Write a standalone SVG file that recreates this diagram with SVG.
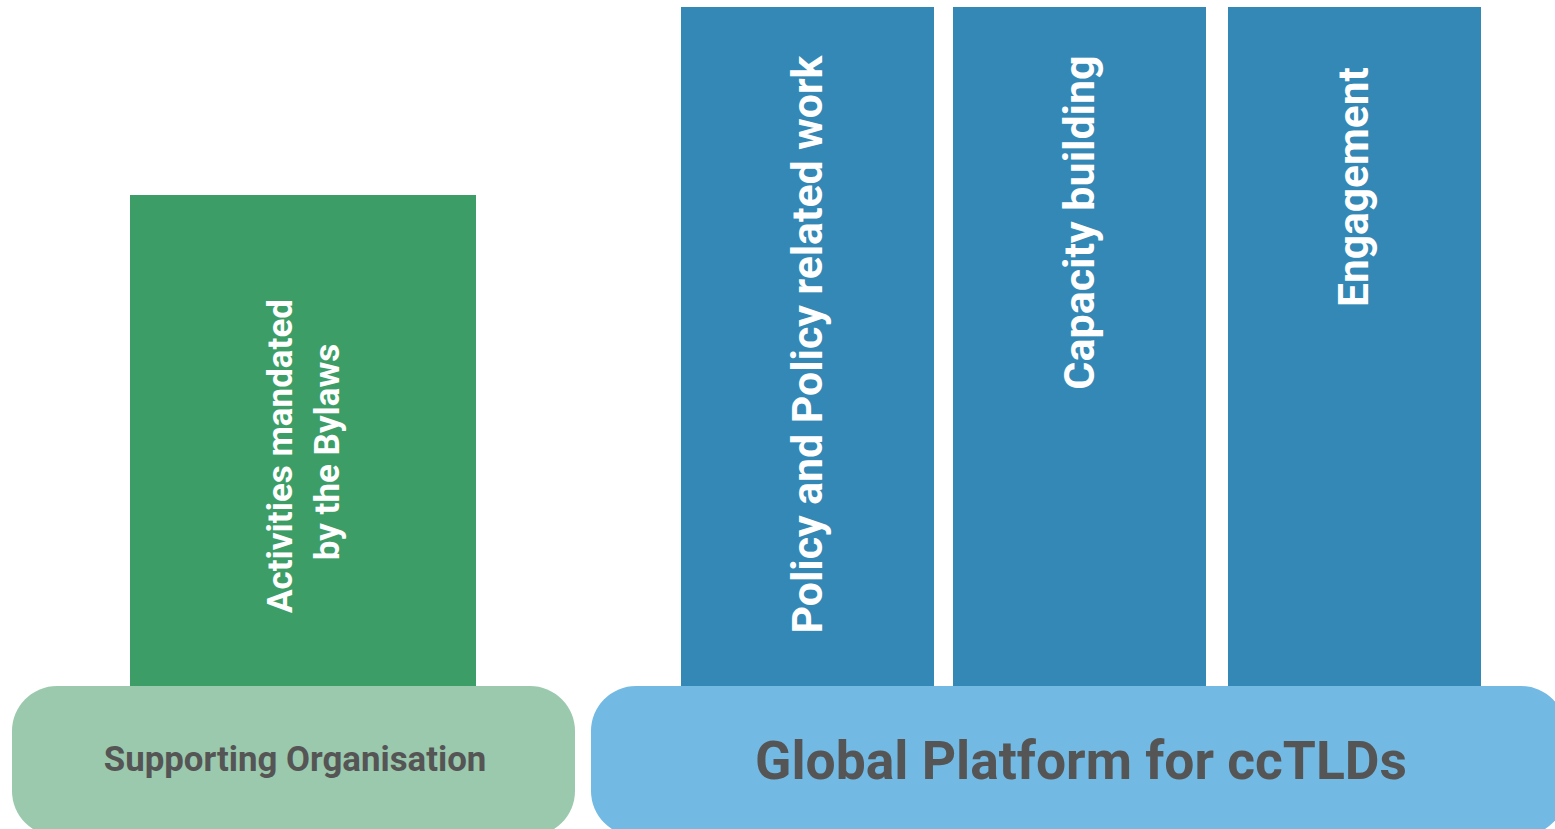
<svg xmlns="http://www.w3.org/2000/svg" width="1555" height="829" viewBox="0 0 1555 829">
<style>
.pillar-b{fill:#3388B5}
.pillar-g{fill:#3C9E66}
.lbl{font-family:Roboto,"Liberation Sans",sans-serif;font-weight:bold;fill:#ffffff;text-anchor:middle}
.base{font-family:Roboto,"Liberation Sans",sans-serif;font-weight:bold;fill:#555555;text-anchor:middle}
</style>
<rect width="1555" height="829" fill="#ffffff"/>
<g id="activities">
<rect class="pillar-g" x="130" y="195" width="346" height="492"/>
<text class="lbl" font-weight="500" font-size="35" transform="translate(292,456) rotate(-90)">Activities mandated</text>
<text class="lbl" font-weight="500" font-size="35" transform="translate(339,452) rotate(-90)">by the Bylaws</text>
</g>
<g id="policy">
<rect class="pillar-b" x="681" y="7" width="253" height="680"/>
<text class="lbl" font-size="42.8" transform="translate(822,344.5) rotate(-90)">Policy and Policy related work</text>
</g>
<g id="capacity">
<rect class="pillar-b" x="953" y="7" width="253" height="680"/>
<text class="lbl" font-size="43" transform="translate(1094,222.5) rotate(-90)">Capacity building</text>
</g>
<g id="engagement">
<rect class="pillar-b" x="1228" y="7" width="253" height="680"/>
<text class="lbl" font-size="42.5" transform="translate(1368,187) rotate(-90)">Engagement</text>
</g>
<g id="supporting-organisation">
<rect x="12" y="686" width="563" height="150" rx="45" ry="45" fill="#9BC9AD"/>
<text class="base" x="295" y="771" font-size="34.8">Supporting Organisation</text>
</g>
<g id="global-platform">
<rect x="591" y="686" width="975" height="150" rx="45" ry="45" fill="#72B9E3"/>
<text class="base" x="1081" y="779" font-size="53.4">Global Platform for ccTLDs</text>
</g>
<g id="connectors"></g>
</svg>
